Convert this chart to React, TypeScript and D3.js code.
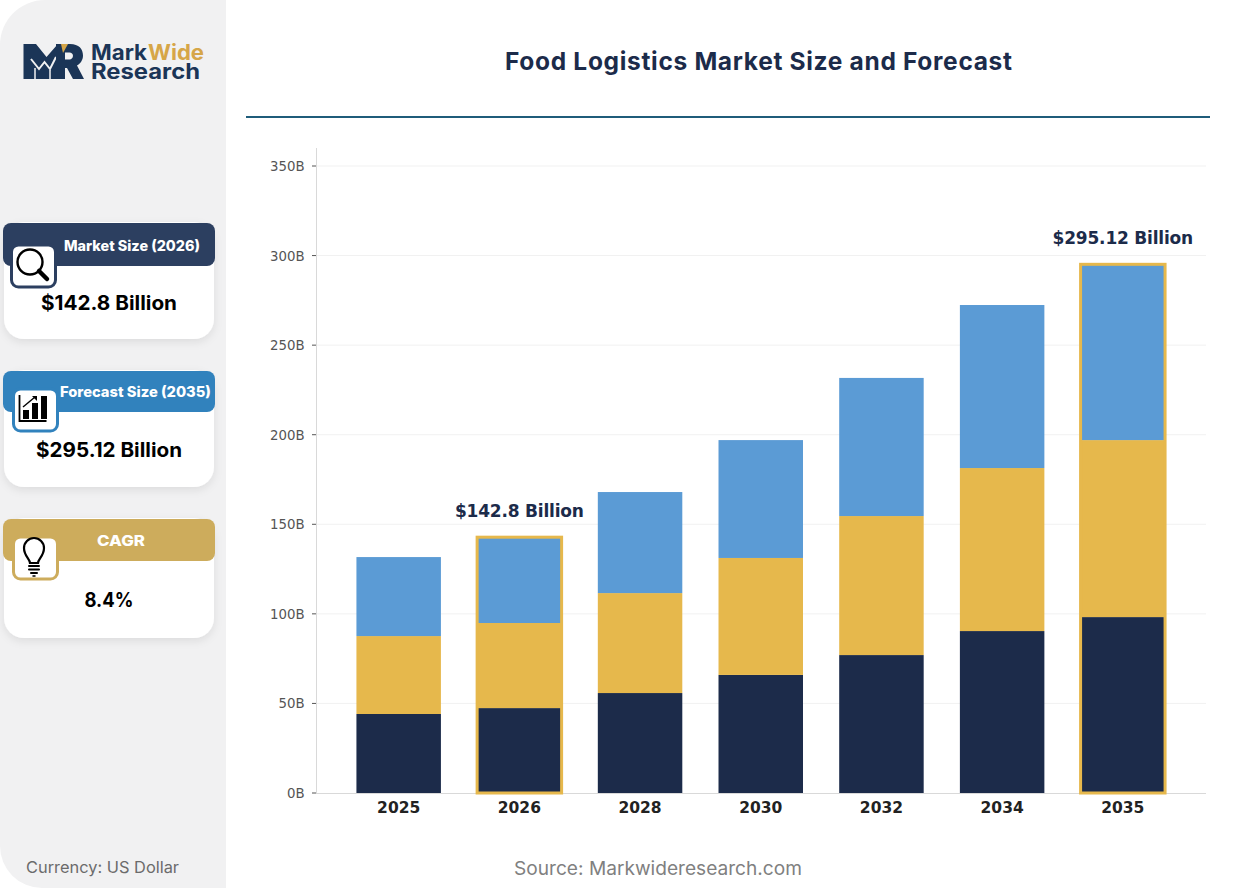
import React from "react";
import * as d3 from "d3";

const years = ["2025", "2026", "2028", "2030", "2032", "2034", "2035"];
const navyValues = [44.1, 47.4, 55.8, 65.9, 77, 90.4, 98.2];
const goldValues = [43.5, 47.5, 55.8, 65.3, 77.6, 91, 98.8];
const blueValues = [44.1, 47.9, 56.4, 65.8, 77.1, 91, 98.12];
const highlightYears = ["2026", "2035"];
const highlightLabels = ["$142.8 Billion", "$295.12 Billion"];
const yTicks = [0, 50, 100, 150, 200, 250, 300, 350];
const seriesColors = ["#1c2b4a", "#e6b84c", "#5b9bd5"];

const cards = [
  { title: "Market Size (2026)", value: "$142.8 Billion", color: "#2c3f60", top: 222, bottom: 339, hb: 266, tx: 132, ty: 251, tw: 136, boxX: 11, boxY: 245, vy: 310, vw: 136 },
  { title: "Forecast Size (2035)", value: "$295.12 Billion", color: "#3182bd", top: 370, bottom: 487, hb: 412, tx: 135.5, ty: 397, tw: 151, boxX: 13, boxY: 389, vy: 457, vw: 146 },
  { title: "CAGR", value: "8.4%", color: "#cdac5c", top: 518, bottom: 638, hb: 561, tx: 121, ty: 546, tw: 48, boxX: 13, boxY: 537, vy: 607, vw: 49 },
];

const Magnifier = () => (
  <g fill="none" stroke="#000">
    <circle cx={30} cy={262} r={12.5} strokeWidth={2.4} />
    <line x1={39} y1={271} x2={47} y2={279} strokeWidth={4.5} strokeLinecap="round" />
  </g>
);
const ChartIcon = () => (
  <g>
    <path d="M19.500 395v26h27" fill="none" stroke="#000" strokeWidth={1.8} />
    <rect x={23} y={410} width={6} height={9} fill="#000" />
    <rect x={32} y={403} width={6} height={16} fill="#000" />
    <rect x={41} y={396} width={6} height={23} fill="#000" />
    <path d="M23 407l12-10" stroke="#000" strokeWidth={1.4} />
    <path d="M32 396h5v5z" fill="#000" />
  </g>
);
const Bulb = () => (
  <g fill="none" stroke="#000" strokeLinecap="round">
    <path d="M30 563c0-4-6-7-6-15a10 10 0 0 1 20 0c0 8-6 11-6 15z" strokeWidth={2.2} />
    <path d="M29 566h10M29 569.500h10" strokeWidth={2} />
    <path d="M31 573h6" strokeWidth={2} />
    <path d="M33 576h2" strokeWidth={1.5} />
  </g>
);
const icons = [<Magnifier />, <ChartIcon />, <Bulb />];

export default function App() {
  const x = d3.scaleBand<string>().domain(years).range([316, 1205.5]).paddingInner(0.3).paddingOuter(0.335);
  const y = d3.scaleLinear().domain([0, 350]).range([793, 166]);
  const stacked = d3.stack<number>().keys(["0", "1", "2"]).value((i, k) => [navyValues, goldValues, blueValues][+k][i])(years.map((_, i) => i));
  const totals = years.map((_, i) => navyValues[i] + goldValues[i] + blueValues[i]);
  const dejavu = "'DejaVu Sans', sans-serif";
  const inter = "Inter, sans-serif";
  const sidebar = "M45 0H226V888H42A42 42 0 0 1 0 846V45A45 45 0 0 1 45 0Z";

  return (
    <svg width={1257} height={888} style={{ position: "absolute", left: 0, top: 0, background: "#fff" }}>
      <defs>
        <filter id="cardShadow" x="-15%" y="-15%" width="130%" height="135%">
          <feDropShadow dx={0} dy={3} stdDeviation={4} floodColor="#000" floodOpacity={0.09} />
        </filter>
      </defs>
      <path d={sidebar} fill="#f1f1f2" />

      {/* logo */}
      <g>
        <path d="M23.500 44H36L46.500 57L57 45V79H23.500Z" fill="#1b3557" />
        <path d="M31 59L39 69L44.500 62L50 69L56 57" fill="none" stroke="#f1f1f2" strokeWidth={2} />
        <path d="M35 68V79M50 70V79" stroke="#f1f1f2" strokeWidth={1.500} />
        <path d="M56 44H70C79 44 83 49 83 55.500C83 60 80.500 63.500 77 65.500L84 79H73L67 68H65V79H56Z" fill="#1b3557" />
        <path d="M65 52.500H69.500C71.500 52.500 73 53.800 73 55.800C73 57.800 71.500 59.500 69.500 59.500H65Z" fill="#f1f1f2" />
        <path d="M61 44H68L63 53Z" fill="#d6a648" />
        <text fontFamily={inter} fontWeight={700} fontSize={21} fill="#1b3557">
          <tspan x={91} y={59.500} textLength={56} lengthAdjust="spacingAndGlyphs">Mark</tspan>
          <tspan x={148} y={59.500} textLength={56} lengthAdjust="spacingAndGlyphs" fill="#d6a648">Wide</tspan>
          <tspan x={91} y={78.500} textLength={109} lengthAdjust="spacingAndGlyphs">Research</tspan>
        </text>
      </g>

      {cards.map((c, i) => (
        <g key={c.title}>
          <rect x={4} y={c.top} width={210} height={c.bottom - c.top} rx={20} fill="#fff" filter="url(#cardShadow)" />
          <rect x={3} y={c.top + 1} width={212} height={c.hb - c.top - 1} rx={8} fill={c.color} />
          <text x={c.tx} y={c.ty} textAnchor="middle" fontFamily={inter} fontWeight={800} fontSize={14.500} fill="#fff" textLength={c.tw} lengthAdjust="spacingAndGlyphs">{c.title}</text>
          <rect x={c.boxX + 0.5} y={c.boxY} width={44} height={42} rx={7} fill="#fff" stroke={c.color} strokeWidth={3} />
          {icons[i]}
          <text x={109} y={c.vy} textAnchor="middle" fontFamily={inter} fontWeight={700} fontSize={20} fill="#000" textLength={c.vw} lengthAdjust="spacingAndGlyphs">{c.value}</text>
        </g>
      ))}

      <text x={26} y={873} fontFamily={inter} fontSize={16} fill="#6b6b6b" textLength={153} lengthAdjust="spacingAndGlyphs">Currency: US Dollar</text>
      <text x={514} y={875} fontFamily={inter} fontSize={18.500} fill="#808080" textLength={288} lengthAdjust="spacingAndGlyphs">Source: Markwideresearch.com</text>

      <text x={505} y={70} fontFamily={inter} fontWeight={700} fontSize={24.500} fill="#1c2b4a" textLength={507} lengthAdjust="spacing">Food Logistics Market Size and Forecast</text>
      <rect x={246} y={116} width={964} height={2} fill="#1f5c7a" />

      {/* grid */}
      {yTicks.slice(1).map((t) => (
        <line key={t} x1={317} x2={1206} y1={y(t)} y2={y(t)} stroke="#f1f1f1" strokeWidth={1} />
      ))}
      {/* axes */}
      <line x1={316.500} x2={316.500} y1={148} y2={793.500} stroke="#d9d9d9" strokeWidth={1} />
      <line x1={316} x2={1206} y1={793.500} y2={793.500} stroke="#d9d9d9" strokeWidth={1} />
      {yTicks.map((t) => (
        <g key={t}>
          <line x1={312} x2={316} y1={y(t)} y2={y(t)} stroke="#555" strokeWidth={1} />
          <text x={304.500} y={y(t) + 5} textAnchor="end" fontFamily={dejavu} fontSize={13.300} fill="#555">{t}B</text>
        </g>
      ))}

      {/* stacked bars */}
      {stacked.map((layer, li) =>
        layer.map((d, i) => (
          <rect key={li + "-" + i} x={x(years[i])} width={x.bandwidth()} y={y(d[1])} height={y(d[0]) - y(d[1])} fill={seriesColors[li]} />
        ))
      )}
      {highlightYears.map((yr) => {
        const i = years.indexOf(yr);
        return (
          <rect key={yr} x={x(yr)} width={x.bandwidth()} y={y(totals[i])} height={y(0) - y(totals[i])} fill="none" stroke="#e6b84c" strokeWidth={3} />
        );
      })}
      {highlightYears.map((yr, k) => {
        const i = years.indexOf(yr);
        return (
          <text key={yr} x={x(yr)! + x.bandwidth() / 2} y={y(totals[i]) - 20} textAnchor="middle" fontFamily={dejavu} fontWeight={700} fontSize={17} letterSpacing={-0.2} fill="#1c2b4a">{highlightLabels[k]}</text>
        );
      })}
      {years.map((yr) => (
        <text key={yr} x={x(yr)! + x.bandwidth() / 2} y={813} textAnchor="middle" fontFamily={dejavu} fontWeight={700} fontSize={15.500} fill="#222">{yr}</text>
      ))}
    </svg>
  );
}
